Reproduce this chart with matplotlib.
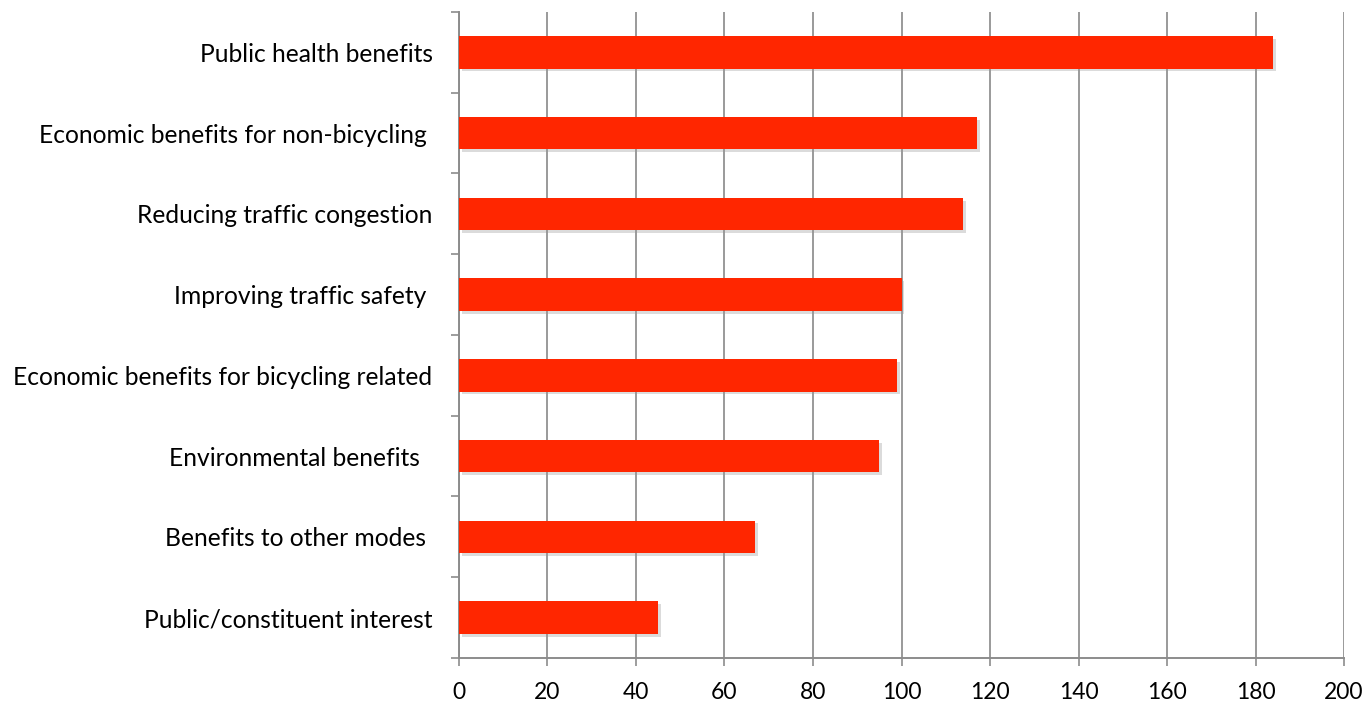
import numpy as np
import matplotlib
matplotlib.use("Agg")
import matplotlib.pyplot as plt
import matplotlib.patheffects as pe

categories = [
    "Public health benefits",
    "Economic benefits for non-bicycling ",
    "Reducing traffic congestion",
    "Improving traffic safety ",
    "Economic benefits for bicycling related",
    "Environmental benefits  ",
    "Benefits to other modes ",
    "Public/constituent interest",
]
values = [184, 117, 114, 100, 99, 95, 67, 45]
x_ticks = [0, 20, 40, 60, 80, 100, 120, 140, 160, 180, 200]

plt.rcParams['font.family'] = ['Lato', 'DejaVu Sans']

fig = plt.figure(figsize=(13.68, 7.06), dpi=100)
ax = fig.add_axes([0.3355, 0.068, 0.647, 0.915])

n = len(categories)
pos = np.arange(n)[::-1]
bars = ax.barh(pos, values, height=0.4, color='#ff2600', zorder=3)
for b in bars:
    b.set_path_effects([pe.SimplePatchShadow(offset=(2, -2), shadow_rgbFace='#999999', alpha=0.35),
                        pe.Normal()])

ax.set_xlim(0, 200)
ax.set_ylim(-0.5, n - 0.5)
ax.set_xticks(x_ticks)
ax.set_xticklabels([str(t) for t in x_ticks], fontsize=16.5)
ax.set_yticks(pos)
ax.set_yticklabels(categories, fontsize=17.7)
ax.set_yticks(np.arange(n + 1) - 0.5, minor=True)

ax.tick_params(axis='y', which='major', length=0, pad=19)
ax.tick_params(axis='y', which='minor', length=6, width=1.2, color='#8c8c8c')
ax.tick_params(axis='x', length=6, width=1.2, color='#8c8c8c', pad=11)

ax.grid(axis='x', color='#9a9a9a', linewidth=1.4, zorder=0)
for s in ['top', 'right']:
    ax.spines[s].set_visible(False)
for s in ['left', 'bottom']:
    ax.spines[s].set_color('#8c8c8c')
    ax.spines[s].set_linewidth(1.4)

fig.savefig("out.png", dpi=100)
